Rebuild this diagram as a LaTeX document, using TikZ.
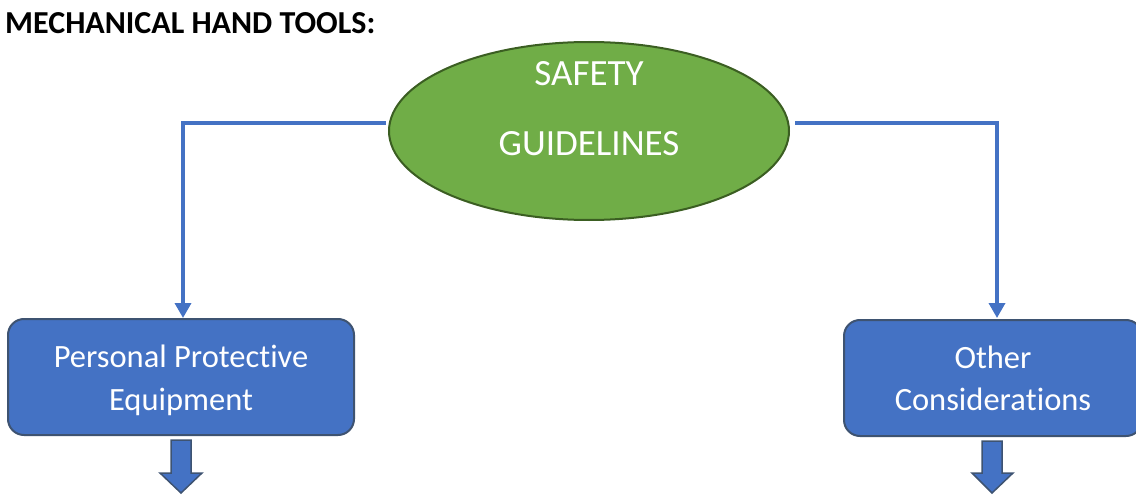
\documentclass[tikz,border=0pt]{standalone}
\usepackage{fontspec}
\setmainfont[Ligatures={NoCommon,NoRare},Contextuals={NoAlternate}]{Carlito}
\usetikzlibrary{shapes.geometric,arrows.meta}
\definecolor{myblue}{HTML}{4472C4}
\definecolor{boxedge}{HTML}{3E5371}
\definecolor{mygreen}{HTML}{70AD47}
\definecolor{greenedge}{HTML}{3B5E22}
\tikzset{
  x=1pt, y=-1pt,
  topbox/.style={draw=boxedge, line width=2pt, fill=myblue, rounded corners=16pt, inner sep=0pt},
  wtext/.style={text=white, anchor=base, inner sep=0pt, font=\fontsize{32.5}{32.5}\selectfont},
  etext/.style={text=white, anchor=base, inner sep=0pt, font=\fontsize{37}{37}\selectfont},
  conn/.style={draw=myblue, line width=3.5pt, -{Triangle[length=15pt,width=16pt]}},
  blockarrow/.style={fill=myblue, draw=boxedge, line width=1.5pt, line join=miter}
}
\begin{document}
\begin{tikzpicture}
\useasboundingbox (0,0) rectangle (1136,495);
\node[anchor=base west, inner sep=0pt, font=\bfseries\fontsize{32}{32}\selectfont] (title) at (5,34) {MECHANICAL HAND TOOLS:};
% ellipse
\node[ellipse, draw=greenedge, line width=2pt, fill=mygreen, minimum width=400pt, minimum height=178pt, inner sep=0pt] (ell) at (589,131) {};
\node[etext] (t1) at (589,85) {SAFETY};
\node[etext] (t2) at (589,155) {GUIDELINES};
% boxes
\begin{scope}
\clip (0,0) rectangle (1136,495);
\node[topbox, minimum width=346pt, minimum height=116pt] (ppe) at (181,377) {};
\node[topbox, minimum width=298pt, minimum height=116pt] (oth) at (993,378) {};
\end{scope}
\node[wtext] (p1) at (181,367) {Personal Protec\kern0pt t\kern0pt ive};
\node[wtext] (p2) at (181,410) {Equipment};
\node[wtext] (o1) at (993,368) {Other};
\node[wtext] (o2) at (993,410) {Considera\kern0pt t\kern0pt ions};
% connectors
\coordinate (ls) at (386,123);
\coordinate (le) at (183,318);
\coordinate (rs) at (795,123);
\coordinate (re) at (997,318);
\draw[conn] (ls) -| (le);
\draw[conn] (rs) -| (re);
% block arrows
\draw[blockarrow] (171,440) -- (191,440) -- (191,473) -- (202,473) -- (181,493) -- (160,473) -- (171,473) -- cycle;
\draw[blockarrow] (982,441) -- (1002,441) -- (1002,473) -- (1013,473) -- (992,493) -- (972,473) -- (982,473) -- cycle;
\end{tikzpicture}
\end{document}
